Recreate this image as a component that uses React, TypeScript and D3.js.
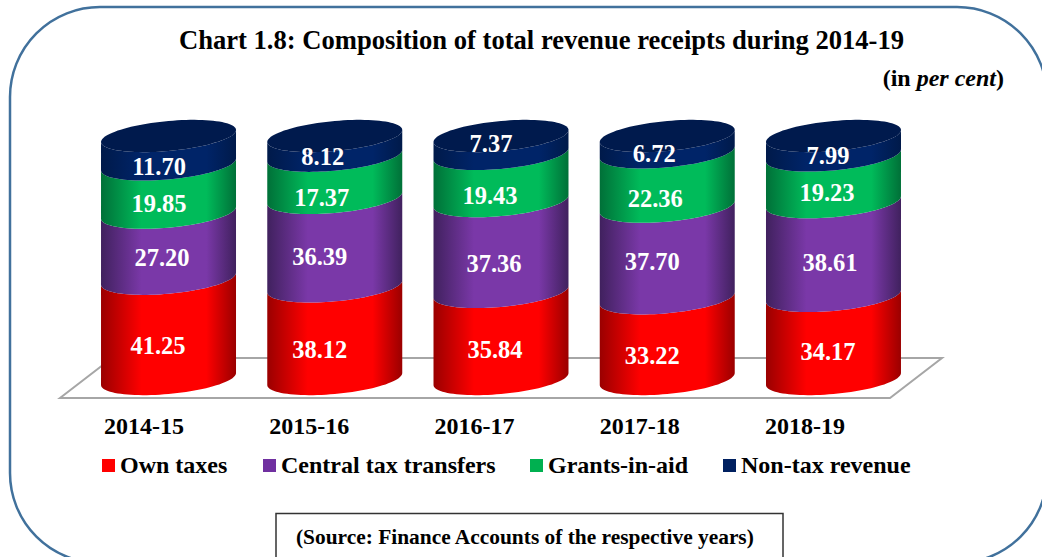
import React from "react";
import * as d3 from "d3";

const categories = ["2014-15", "2015-16", "2016-17", "2017-18", "2018-19"];
const seriesNames = ["Own taxes", "Central tax transfers", "Grants-in-aid", "Non-tax revenue"];
const ownTaxes = [41.25, 38.12, 35.84, 33.22, 34.17];
const centralTransfers = [27.2, 36.39, 37.36, 37.7, 38.61];
const grantsInAid = [19.85, 17.37, 19.43, 22.36, 19.23];
const nonTaxRevenue = [11.7, 8.12, 7.37, 6.72, 7.99];
const seriesValues = [ownTaxes, centralTransfers, grantsInAid, nonTaxRevenue];
const seriesColors = ["#ff0000", "#7030a0", "#00b050", "#002060"];
const edgeColors = ["#9a0000", "#40215e", "#007038", "#001a4a"];
const midColors = ["#ff0000", "#7a38a8", "#00bb5a", "#002468"];

// hand-placed label offsets from each segment's middle, one row per category
const labelDx = [
  [-10.5, -6.5, -9.5, -9.5],
  [-15, -15, -13, -12],
  [-6, -7, -11, -10],
  [-15, -15, -12, -13],
  [-5.5, -3.5, -6.5, -5.5],
];
const labelDy = [
  [2, -3, 0, 2],
  [2, 0, 6, -4],
  [0, 2, 3, -16],
  [2, -5, 5, -5],
  [0, -1, -1, -5],
];

const W = 1042, H = 557;
const font = "'Liberation Serif','Times New Roman',serif";
const x = d3.scaleBand().domain(categories).range([84.4, 917.6]).paddingInner(0.188).paddingOuter(0.1);
const xLabel = d3.scalePoint().domain(categories).range([144, 805]);
const y = d3.scaleLinear().domain([0, 100]).range([379, 136]);
const TILT = 6, RY = 15;
const ts = d3.range(0, 49).map((i) => (i / 48) * Math.PI);

function curve(cx: number, rx: number, cy: number, rev = false) {
  const p = ts.map((t) => [cx + rx * Math.cos(t), cy - TILT * Math.cos(t) + RY * Math.sin(t)] as [number, number]);
  return rev ? p.reverse() : p;
}
function backCurve(cx: number, rx: number, cy: number) {
  return ts.map((t) => [cx - rx * Math.cos(t), cy + TILT * Math.cos(t) - RY * Math.sin(t)] as [number, number]);
}
const line = d3.line();
const legendX = [102, 263, 530, 723];

export default function App() {
  const rx = x.bandwidth() / 2;
  const stacks = categories.map((_, i) => {
    let acc = 0;
    return seriesValues.map((s) => {
      const a = acc;
      acc += s[i];
      return [a, acc];
    });
  });
  return (
    <svg width={W} height={H} style={{ position: "absolute", left: 0, top: 0, fontFamily: font }}>
      <defs>
        {seriesColors.map((_, k) => (
          <linearGradient key={k} id={`g${k}`} x1="0" x2="1" y1="0" y2="0">
            <stop offset="0" stopColor={edgeColors[k]} />
            <stop offset="0.3" stopColor={midColors[k]} />
            <stop offset="0.78" stopColor={midColors[k]} />
            <stop offset="1" stopColor={edgeColors[k]} />
          </linearGradient>
        ))}
      </defs>
      <rect width={W} height={H} fill="#fff" />
      <rect x={10} y={7} width={1037} height={556} rx={90} ry={90} fill="none" stroke="#41719c" strokeWidth={2.5} />
      <text x={541.5} y={49} textAnchor="middle" fontSize={26.6} fontWeight="bold">
        Chart 1.8: Composition of total revenue receipts during 2014-19
      </text>
      <text x={1004} y={86} textAnchor="end" fontSize={24} fontWeight="bold">
        (in <tspan fontStyle="italic">per cent</tspan>)
      </text>
      <path d="M60,398 L112,358 L942,358 L890,398 Z" fill="#fff" stroke="#a6a6a6" strokeWidth={2} />
      {categories.map((c, i) => {
        const cx = x(c)! + rx;
        return (
          <g key={c}>
            {stacks[i].map(([a, b], k) => (
              <path
                key={k}
                d={(line(curve(cx, rx, y(a)).concat(curve(cx, rx, y(b), true))) ?? "") + "Z"}
                fill={`url(#g${k})`}
              />
            ))}
            <path
              d={(line(curve(cx, rx, y(100)).concat(backCurve(cx, rx, y(100)))) ?? "") + "Z"}
              fill="#001a4d"
            />
            {stacks[i].map(([a, b], k) => (
              <text
                key={k}
                x={cx + labelDx[i][k]}
                y={(y(a) + y(b)) / 2 + RY + 8 + labelDy[i][k]}
                textAnchor="middle"
                fontSize={24.5}
                fontWeight="bold"
                fill="#fff"
              >
                {seriesValues[k][i].toFixed(2)}
              </text>
            ))}
            <text x={xLabel(c)} y={434} textAnchor="middle" fontSize={24} fontWeight="bold">{c}</text>
          </g>
        );
      })}
      {seriesNames.map((n, k) => (
        <g key={n}>
          <rect x={legendX[k]} y={459} width={13} height={13} fill={seriesColors[k]} />
          <text x={legendX[k] + 18} y={473} fontSize={24} fontWeight="bold">{n}</text>
        </g>
      ))}
      <rect x={276} y={513.5} width={507} height={50} fill="#fff" stroke="#333" strokeWidth={1.5} />
      <text x={296} y={544} fontSize={21.4} fontWeight="bold">(Source: Finance Accounts of the respective years)</text>
    </svg>
  );
}
